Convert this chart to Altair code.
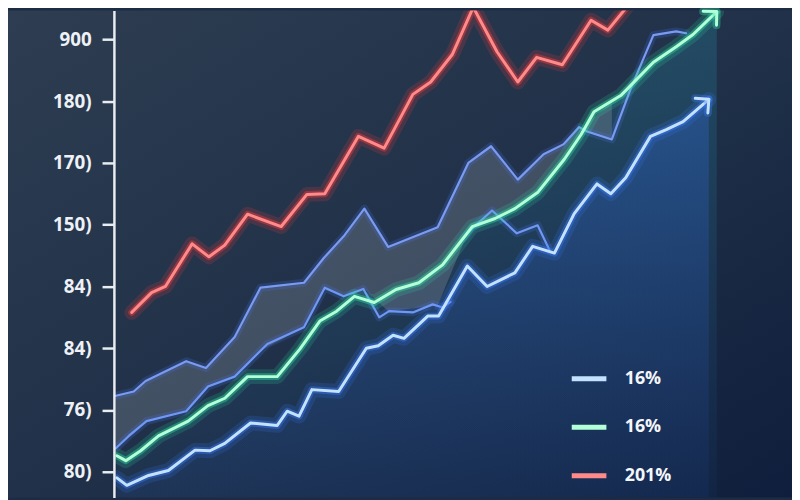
import math
import altair as alt
import pandas as pd

# ---------------- data ----------------
tick_values = [0, 100, 200, 300, 400, 500, 600, 700]
tick_labels = ["80)", "76)", "84)", "84)", "150)", "170)", "180)", "900"]

legend_keys = ["blue", "green", "red"]
legend_labels = ["16%", "16%", "201%"]

red_x = [18, 38, 52, 79, 96, 112, 135, 169, 195, 213, 247, 273, 302, 320, 342, 363,
         387, 408, 427, 453, 482, 499, 522, 540]
red_y = [258, 290, 300, 369, 348, 367, 417, 397, 449, 450, 543, 524, 611, 631, 676, 752,
         680, 631, 671, 659, 731, 715, 760, 800]

green_x = [3, 12, 27, 45, 75, 95, 112, 135, 165, 188, 208, 225, 243, 263, 285, 308, 332,
           362, 385, 405, 428, 455, 472, 485, 512, 545, 568, 585, 609]
green_y = [26, 18, 34, 58, 82, 107, 119, 154, 154, 199, 244, 260, 284, 274, 295, 306, 335,
           397, 410, 426, 452, 506, 546, 583, 609, 663, 688, 708, 745]

blue_x = [3, 13, 35, 55, 82, 97, 112, 138, 165, 175, 187, 200, 227, 255, 267, 282, 293,
          317, 328, 357, 377, 405, 423, 445, 465, 488, 502, 517, 542, 558, 575, 601]
blue_y = [-10, -22, -6, 2, 35, 34, 46, 79, 75, 98, 90, 133, 130, 200, 204, 221, 216,
          252, 252, 333, 300, 322, 365, 354, 418, 466, 450, 476, 543, 554, 567, 603]

band_hi_x = [2, 20, 32, 73, 93, 122, 148, 192, 212, 233, 253, 277, 327, 358, 381, 408,
             434, 454, 470, 478, 503, 522, 545, 568, 578]
band_hi_y = [123, 130, 147, 179, 168, 218, 298, 306, 346, 383, 426, 364, 396, 500, 527,
             473, 514, 530, 558, 551, 538, 620, 707, 713, 710]

band_lo_x = [2, 15, 33, 73, 95, 122, 155, 192, 213, 232, 252, 268, 278, 302, 322, 332, 340]
band_lo_y = [38, 58, 82, 98, 138, 154, 207, 234, 298, 284, 296, 250, 260, 258, 271, 266, 275]

mid_x = [353, 362, 382, 407, 428, 440]
mid_y = [378, 394, 423, 386, 399, 359]

fill_x = band_hi_x[:21]
fill_hi = band_hi_y[:21]
fill_lo = [38, 61, 80, 98, 135, 154, 196, 234, 295, 284, 296, 260, 269, 389, 409, 429,
           463, 505, 542, 564, 599]

# ---------------- layout ----------------
W, H = 685, 492
Y_DOM = [-41.7, 746.8]
X_DOM = [0, 685]

xs = alt.Scale(domain=X_DOM, nice=False, zero=False)
ys = alt.Scale(domain=Y_DOM, nice=False, zero=False)

Y_AXIS = alt.Axis(
    values=tick_values,
    labelExpr="[" + ",".join("'" + t + "'" for t in tick_labels) + "][round(datum.value/100)]",
    title=None, grid=False, zindex=1,
    domainColor="#e9edf2", domainWidth=2.5,
    tickColor="#e9edf2", tickWidth=2.5, tickSize=12,
    labelColor="#eef1f5", labelFont="Open Sans", labelFontSize=19,
    labelFontWeight="bold", labelPadding=11)

def df(xv, yv, name=None):
    d = pd.DataFrame({"x": xv, "y": yv})
    if name is not None:
        d["series"] = name
    return d

def X():
    return alt.X("x:Q", scale=xs, axis=None)

def Y(field="y:Q"):
    return alt.Y(field, scale=ys, axis=Y_AXIS)

def glow(d, color, core=None, core_w=3.0, glow_w=(15, 7), glow_op=(0.17, 0.4)):
    layers = []
    for w, op in zip(glow_w, glow_op):
        layers.append(alt.Chart(d).mark_line(color=color, strokeWidth=w, opacity=op,
                                             clip=True, strokeJoin="round", strokeCap="round")
                      .encode(x=X(), y=Y()))
    if core is not None:
        layers.append(alt.Chart(d).mark_line(color=core, strokeWidth=core_w, clip=True,
                                             strokeJoin="round", strokeCap="round")
                      .encode(x=X(), y=Y()))
    return layers

# background gradient rect
bg = alt.Chart(pd.DataFrame({"a": [0]})).mark_rect(
    color=alt.LinearGradient(
        gradient="linear", x1=0, y1=0, x2=1, y2=1,
        stops=[alt.GradientStop(color="#2e3d51", offset=0),
               alt.GradientStop(color="#203149", offset=0.5),
               alt.GradientStop(color="#0f1e3c", offset=1)]),
).encode(x=alt.value(-107), x2=alt.value(W), y=alt.value(0), y2=alt.value(H))

# glow areas
green_area = alt.Chart(df(green_x, green_y)).mark_area(
    clip=True,
    color=alt.LinearGradient(gradient="linear", x1=0, y1=0, x2=0, y2=1,
                             stops=[alt.GradientStop(color="rgba(40,170,190,0.22)", offset=0),
                                    alt.GradientStop(color="rgba(40,110,180,0.06)", offset=1)]),
).encode(x=X(), y=Y(), y2=alt.datum(Y_DOM[0]))

blue_area = alt.Chart(df(blue_x, blue_y)).mark_area(
    clip=True,
    color=alt.LinearGradient(gradient="linear", x1=0, y1=0, x2=0, y2=1,
                             stops=[alt.GradientStop(color="rgba(50,110,235,0.30)", offset=0),
                                    alt.GradientStop(color="rgba(40,90,200,0.08)", offset=1)]),
).encode(x=X(), y=Y(), y2=alt.datum(Y_DOM[0]))

band_fill = alt.Chart(pd.DataFrame({"x": fill_x, "hi": fill_hi, "lo": fill_lo})).mark_area(
    color="#9aa0ac", opacity=0.28, clip=True
).encode(x=X(), y=Y("hi:Q"), y2="lo:Q")

layers = [bg, green_area, blue_area, band_fill]
layers += glow(df(band_hi_x, band_hi_y), "#4a72e6", "#7b9bf2", core_w=2.2, glow_w=(8,), glow_op=(0.22,))
layers += glow(df(band_lo_x, band_lo_y), "#4a72e6", "#6f98f4", core_w=2.2, glow_w=(8,), glow_op=(0.22,))
layers += glow(df(mid_x, mid_y), "#4a72e6", "#6f98f4", core_w=2.2, glow_w=(8,), glow_op=(0.22,))
layers += glow(df(red_x, red_y), "#ff3b3b")
layers += glow(df(blue_x, blue_y), "#3d7dff")
layers += glow(df(green_x, green_y), "#2fe0a8")

main = pd.concat([df(blue_x, blue_y, "blue"), df(green_x, green_y, "green"),
                  df(red_x, red_y, "red")])
label_expr = " : ".join(f"datum.label == '{k}' ? '{l}'" for k, l in
                        zip(legend_keys[:-1], legend_labels[:-1])) + f" : '{legend_labels[-1]}'"
core_colors = ["#c3e2ff", "#b2ffd8", "#ff8a8a"]
core = alt.Chart(main).mark_line(strokeWidth=3, clip=True, strokeJoin="round",
                                 strokeCap="round").encode(
    x=X(), y=Y(),
    color=alt.Color("series:N",
                    scale=alt.Scale(domain=legend_keys, range=core_colors),
                    legend=alt.Legend(orient="none", legendX=460, legendY=352, title=None,
                                      symbolType="stroke", symbolSize=1225,
                                      symbolStrokeWidth=5, labelFont="Open Sans",
                                      labelFontSize=18, labelFontWeight="bold",
                                      labelColor="#f4f6fa", labelOffset=16,
                                      rowPadding=19, labelExpr=label_expr, zindex=1)),
    detail="series:N",
)
layers.append(core)

# arrow heads at the ends of the green and blue lines
PX_PER_Y = H / (Y_DOM[1] - Y_DOM[0])
def arrow(xv, yv, glow_c, core_c):
    dx = xv[-1] - xv[-2]
    dy = -(yv[-1] - yv[-2]) * PX_PER_Y
    ang = math.degrees(math.atan2(dy, dx)) % 360
    d = pd.DataFrame({"x": [xv[-1]], "y": [yv[-1]], "angle": [ang]})
    out = []
    for w, c, op in [(8, glow_c, 0.35), (3, core_c, 1.0)]:
        out.append(alt.Chart(d).mark_point(shape="M -1 -1 L 0 0 L -1 1", filled=False,
                                           size=380, strokeWidth=w, color=c, opacity=op,
                                           strokeCap="round", strokeJoin="round")
                   .encode(x=X(), y=Y(), angle=alt.Angle("angle:Q", scale=None)))
    return out

layers += arrow(green_x, green_y, "#2fe0a8", "#b2ffd8")
layers += arrow(blue_x, blue_y, "#3d7dff", "#c3e2ff")

chart = alt.layer(*layers).properties(
    width=W, height=H,
    padding={"left": 107, "top": 0, "right": 0, "bottom": 0},
    autosize=alt.AutoSizeParams(type="none"),
    background="#1c2c45",
).configure_view(stroke=None)

chart.save("out.html", embed_options={"renderer": "svg", "actions": False})
